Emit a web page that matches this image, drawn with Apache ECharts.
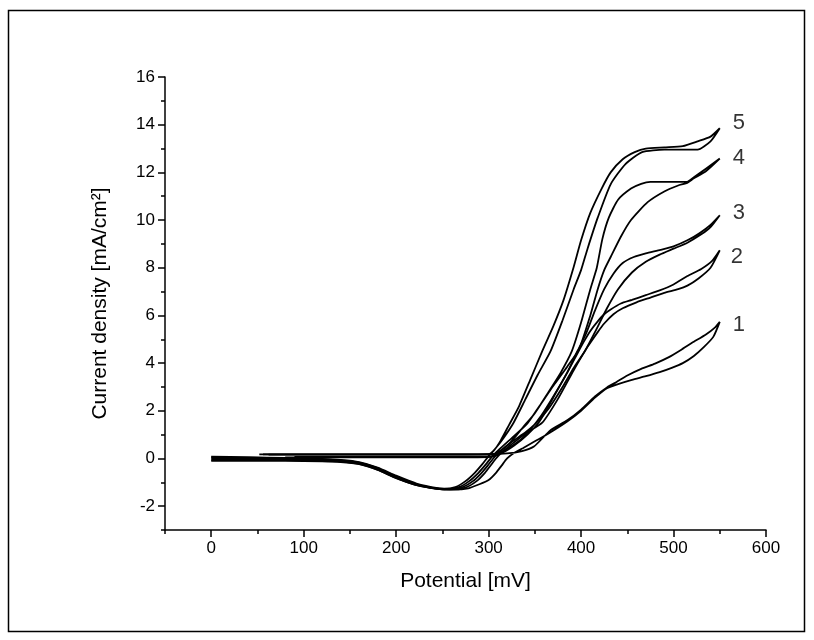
<!DOCTYPE html>
<html>
<head>
<meta charset="utf-8">
<script src="https://cdn.jsdelivr.net/npm/echarts@6/dist/echarts.min.js"></script>
<style>
html,body{margin:0;padding:0;background:#fff;}
#chart{width:814px;height:640px;}
</style>
</head>
<body>
<div id="chart"></div>
<script>
// ---- tick values ----
var xMajor = [0, 100, 200, 300, 400, 500, 600];
var xMinor = [-50, 50, 150, 250, 350, 450, 550];
var yMajor = [-2, 0, 2, 4, 6, 8, 10, 12, 14, 16];
var yMinor = [-3, -1, 1, 3, 5, 7, 9, 11, 13, 15];
var curveNames = ['1', '2', '3', '4', '5'];

// ---- curve 1 ----
var c1Fwd = [[0,0.08],[40,0.05],[80,0.02],[120,-0.02],[140,-0.06],[160,-0.15],[180,-0.38],[200,-0.72],[222,-1.05],[245,-1.24],[262,-1.3],[278,-1.25],[290,-1.08],[300,-0.9],[308,-0.6],[314,-0.3],[320,0.0],[327,0.22],[337,0.43],[350,0.72],[367,1.1],[385,1.55],[400,2.0],[415,2.55],[428,2.95],[440,3.12],[455,3.3],[470,3.45],[485,3.62],[498,3.8],[510,4.0],[522,4.3],[533,4.68],[543,5.1],[550,5.73]];
var c1Rev = [[550,5.73],[545,5.5],[535,5.2],[520,4.85],[508,4.55],[495,4.25],[480,3.98],[465,3.76],[450,3.48],[438,3.2],[428,2.98],[415,2.6],[400,2.05],[385,1.6],[367,1.19],[349,0.5],[335,0.3],[320,0.21],[300,0.18],[250,0.17],[200,0.17],[150,0.17],[100,0.17],[56,0.17]];

// ---- curve 2 ----
var c2Fwd = [[0,-0.06],[40,-0.06],[80,-0.07],[120,-0.09],[140,-0.13],[160,-0.23],[180,-0.47],[200,-0.83],[222,-1.12],[244,-1.27],[260,-1.31],[275,-1.22],[287,-0.95],[296,-0.6],[303,-0.25],[308,0.0],[314,0.25],[325,0.6],[340,1.05],[358,1.5],[375,2.5],[392,3.7],[407,4.68],[418,5.3],[425,5.66],[435,6.05],[445,6.3],[460,6.55],[475,6.75],[490,6.95],[505,7.1],[515,7.25],[527,7.55],[540,8.0],[550,8.73]];
var c2Rev = [[550,8.73],[542,8.3],[530,7.95],[515,7.65],[500,7.3],[485,7.05],[470,6.85],[455,6.65],[443,6.5],[432,6.25],[425,6.05],[418,5.75],[410,5.35],[403,4.9],[396,4.4],[385,3.6],[372,2.7],[362,2.0],[354,1.5],[342,1.0],[328,0.55],[314,0.22],[300,0.06],[250,0.05],[200,0.05],[150,0.05],[100,0.05],[80,0.05]];

// ---- curve 3 ----
var c3Fwd = [[0,0.05],[40,0.04],[80,0.0],[120,-0.04],[140,-0.08],[160,-0.17],[180,-0.4],[200,-0.76],[220,-1.06],[242,-1.25],[258,-1.3],[272,-1.2],[283,-0.95],[292,-0.62],[299,-0.3],[305,0.0],[311,0.25],[325,0.7],[340,1.1],[351,1.47],[365,2.1],[380,3.0],[392,3.8],[404,4.5],[415,5.3],[428,6.3],[440,7.1],[455,7.8],[470,8.25],[485,8.55],[500,8.8],[515,9.05],[530,9.4],[540,9.7],[550,10.2]];
var c3Rev = [[550,10.2],[540,9.8],[528,9.45],[515,9.15],[500,8.9],[486,8.75],[470,8.6],[457,8.45],[445,8.2],[435,7.75],[425,7.1],[415,6.2],[405,5.2],[396,4.5],[385,3.6],[370,2.6],[357,1.8],[347,1.3],[335,0.8],[320,0.4],[308,0.15],[300,0.08],[250,0.07],[200,0.07],[150,0.07],[100,0.07],[90,0.07]];

// ---- curve 4 ----
var c4Fwd = [[0,0.0],[40,-0.01],[80,-0.03],[120,-0.06],[140,-0.1],[160,-0.19],[180,-0.42],[200,-0.78],[220,-1.08],[240,-1.24],[255,-1.28],[268,-1.2],[279,-0.95],[289,-0.6],[297,-0.25],[303,0.05],[312,0.4],[325,0.85],[342,1.47],[355,2.2],[370,3.05],[385,3.85],[398,4.6],[410,6.0],[418,7.1],[425,7.9],[432,8.45],[443,9.3],[454,10.0],[472,10.75],[490,11.2],[505,11.45],[514,11.55],[522,11.75],[535,12.05],[550,12.58]];
var c4Rev = [[550,12.58],[535,12.15],[522,11.8],[514,11.6],[475,11.6],[465,11.52],[454,11.32],[440,10.85],[430,10.1],[423,9.2],[417,8.0],[410,7.1],[400,5.7],[390,4.5],[378,3.6],[365,2.8],[350,1.9],[337,1.3],[322,0.6],[310,0.25],[302,0.17],[250,0.16],[200,0.16],[150,0.16],[100,0.16],[62,0.16]];

// ---- curve 5 ----
var c5Fwd = [[0,-0.1],[40,-0.1],[80,-0.1],[120,-0.12],[140,-0.15],[160,-0.24],[180,-0.48],[200,-0.82],[220,-1.1],[238,-1.24],[252,-1.27],[264,-1.2],[275,-0.95],[285,-0.6],[293,-0.25],[300,0.1],[308,0.45],[316,0.85],[327,1.5],[340,2.5],[353,3.5],[367,4.5],[380,5.8],[392,7.1],[400,7.9],[407,8.8],[418,10.1],[432,11.5],[448,12.35],[466,12.85],[490,12.95],[510,12.95],[526,12.95],[540,13.3],[550,13.85]];
var c5Rev = [[550,13.85],[540,13.5],[526,13.3],[510,13.1],[490,13.05],[470,13.0],[458,12.85],[445,12.55],[432,12.0],[422,11.3],[410,10.3],[400,9.15],[392,8.03],[381,6.64],[370,5.55],[358,4.5],[345,3.3],[333,2.2],[322,1.4],[313,0.75],[306,0.35],[300,0.18],[250,0.17],[200,0.17],[150,0.17],[100,0.17],[52,0.17]];

var curves = [c1Fwd.concat(c1Rev), c2Fwd.concat(c2Rev), c3Fwd.concat(c3Rev), c4Fwd.concat(c4Rev), c5Fwd.concat(c5Rev)];
var tips = [c1Fwd, c2Fwd, c3Fwd, c4Fwd, c5Fwd].map(function (a) { return a[a.length - 1]; });
var labelOffsets = [[19, 3], [17, 7], [19, -2], [19, -1], [19, -5]];

var FONT = 'Liberation Sans';
var chart = echarts.init(document.getElementById('chart'), null, {renderer: 'canvas'});

var series = curves.map(function (d, i) {
  return {
    type: 'line', name: curveNames[i], data: d, symbol: 'none', smooth: 0.2,
    lineStyle: {color: '#000', width: 1.8}, animation: false, silent: true
  };
});
series.push({
  type: 'scatter', symbolSize: 0, animation: false, silent: true,
  data: tips.map(function (t, i) {
    return {value: t, label: {show: true, formatter: curveNames[i], offset: labelOffsets[i], position: 'inside'}};
  }),
  label: {show: true, color: '#000', fontSize: 22, fontFamily: FONT}
});

var axisLineStyle = {color: '#000', width: 1.5};

chart.setOption({
  backgroundColor: '#fff',
  animation: false,
  grid: {left: 165, right: 48, top: 77, bottom: 110},
  graphic: [{
    type: 'rect', silent: true,
    shape: {x: 8.5, y: 10.5, width: 796, height: 621},
    style: {fill: 'none', stroke: '#000', lineWidth: 1.5}
  }],
  xAxis: [{
    type: 'value', min: -50, max: 600, position: 'bottom',
    axisLine: {show: true, onZero: false, lineStyle: axisLineStyle},
    axisTick: {show: true, customValues: xMajor, length: 7, lineStyle: axisLineStyle},
    axisLabel: {customValues: xMajor, color: '#000', fontSize: 17, fontFamily: FONT, margin: 10},
    splitLine: {show: false},
    name: 'Potential [mV]', nameLocation: 'middle', nameGap: 41,
    nameTextStyle: {color: '#000', fontSize: 21, fontFamily: FONT}
  }, {
    type: 'value', min: -50, max: 600, position: 'bottom', gridIndex: 0,
    axisLine: {show: false, onZero: false},
    axisTick: {show: true, customValues: xMinor, length: 4, lineStyle: axisLineStyle},
    axisLabel: {show: false},
    splitLine: {show: false}
  }],
  yAxis: [{
    type: 'value', min: -3, max: 16, position: 'left',
    axisLine: {show: true, onZero: false, lineStyle: axisLineStyle},
    axisTick: {show: true, customValues: yMajor, length: 7, lineStyle: axisLineStyle},
    axisLabel: {customValues: yMajor, color: '#000', fontSize: 17, fontFamily: FONT, margin: 10},
    splitLine: {show: false},
    name: 'Current density [mA/cm²]', nameLocation: 'middle', nameGap: 54,
    nameTextStyle: {color: '#000', fontSize: 21, fontFamily: FONT}
  }, {
    type: 'value', min: -3, max: 16, position: 'left', gridIndex: 0,
    axisLine: {show: false, onZero: false},
    axisTick: {show: true, customValues: yMinor, length: 4, lineStyle: axisLineStyle},
    axisLabel: {show: false},
    splitLine: {show: false}
  }],
  series: series
});
</script>
</body>
</html>
